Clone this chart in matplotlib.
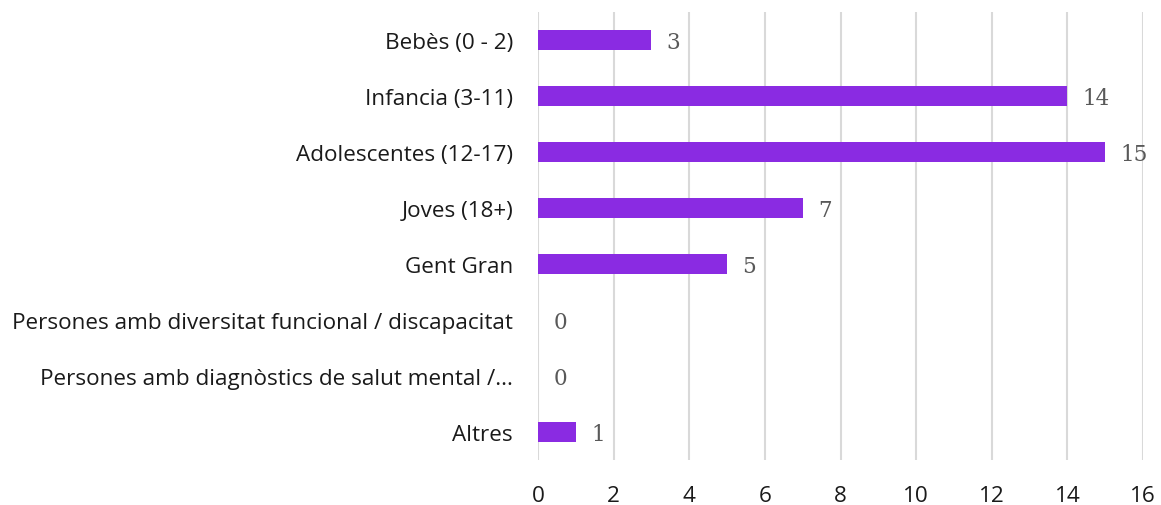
import matplotlib
matplotlib.use("Agg")
import matplotlib.pyplot as plt

categories = [
    "Bebès (0 - 2)",
    "Infancia (3-11)",
    "Adolescentes (12-17)",
    "Joves (18+)",
    "Gent Gran",
    "Persones amb diversitat funcional / discapacitat",
    "Persones amb diagnòstics de salut mental /...",
    "Altres",
]
values = [3, 14, 15, 7, 5, 0, 0, 1]
xticks = [0, 2, 4, 6, 8, 10, 12, 14, 16]

fig = plt.figure(figsize=(11.61, 5.06), dpi=100)
ax = fig.add_axes([0.4634, 0.089, 0.5211, 0.885])

ypos = list(range(len(categories)))
ax.barh(ypos, values, height=0.36, color="#8A2BE2", zorder=3)
ax.set_ylim(len(categories) - 0.5, -0.5)
ax.set_xlim(0, 16)
ax.set_xticks(xticks)
ax.set_yticks(ypos)
ax.set_yticklabels(categories, fontfamily="Open Sans", fontsize=16.2, color="#1a1a1a")
ax.set_xticklabels([str(t) for t in xticks], fontfamily="Open Sans", fontsize=16.2, color="#1a1a1a")
ax.tick_params(axis="both", length=0)
ax.tick_params(axis="y", pad=18)
ax.tick_params(axis="x", pad=18)
for s in ax.spines.values():
    s.set_visible(False)
ax.grid(axis="x", color="#d9d9d9", linewidth=1.5, zorder=0)
ax.set_axisbelow(True)

for y, v in zip(ypos, values):
    ax.annotate(str(v), xy=(v, y), xytext=(11, -1.5), textcoords="offset points",
                va="center", ha="left", fontsize=15.5, color="#595959",
                fontfamily="DejaVu Serif")

fig.savefig("out.png", dpi=100)
